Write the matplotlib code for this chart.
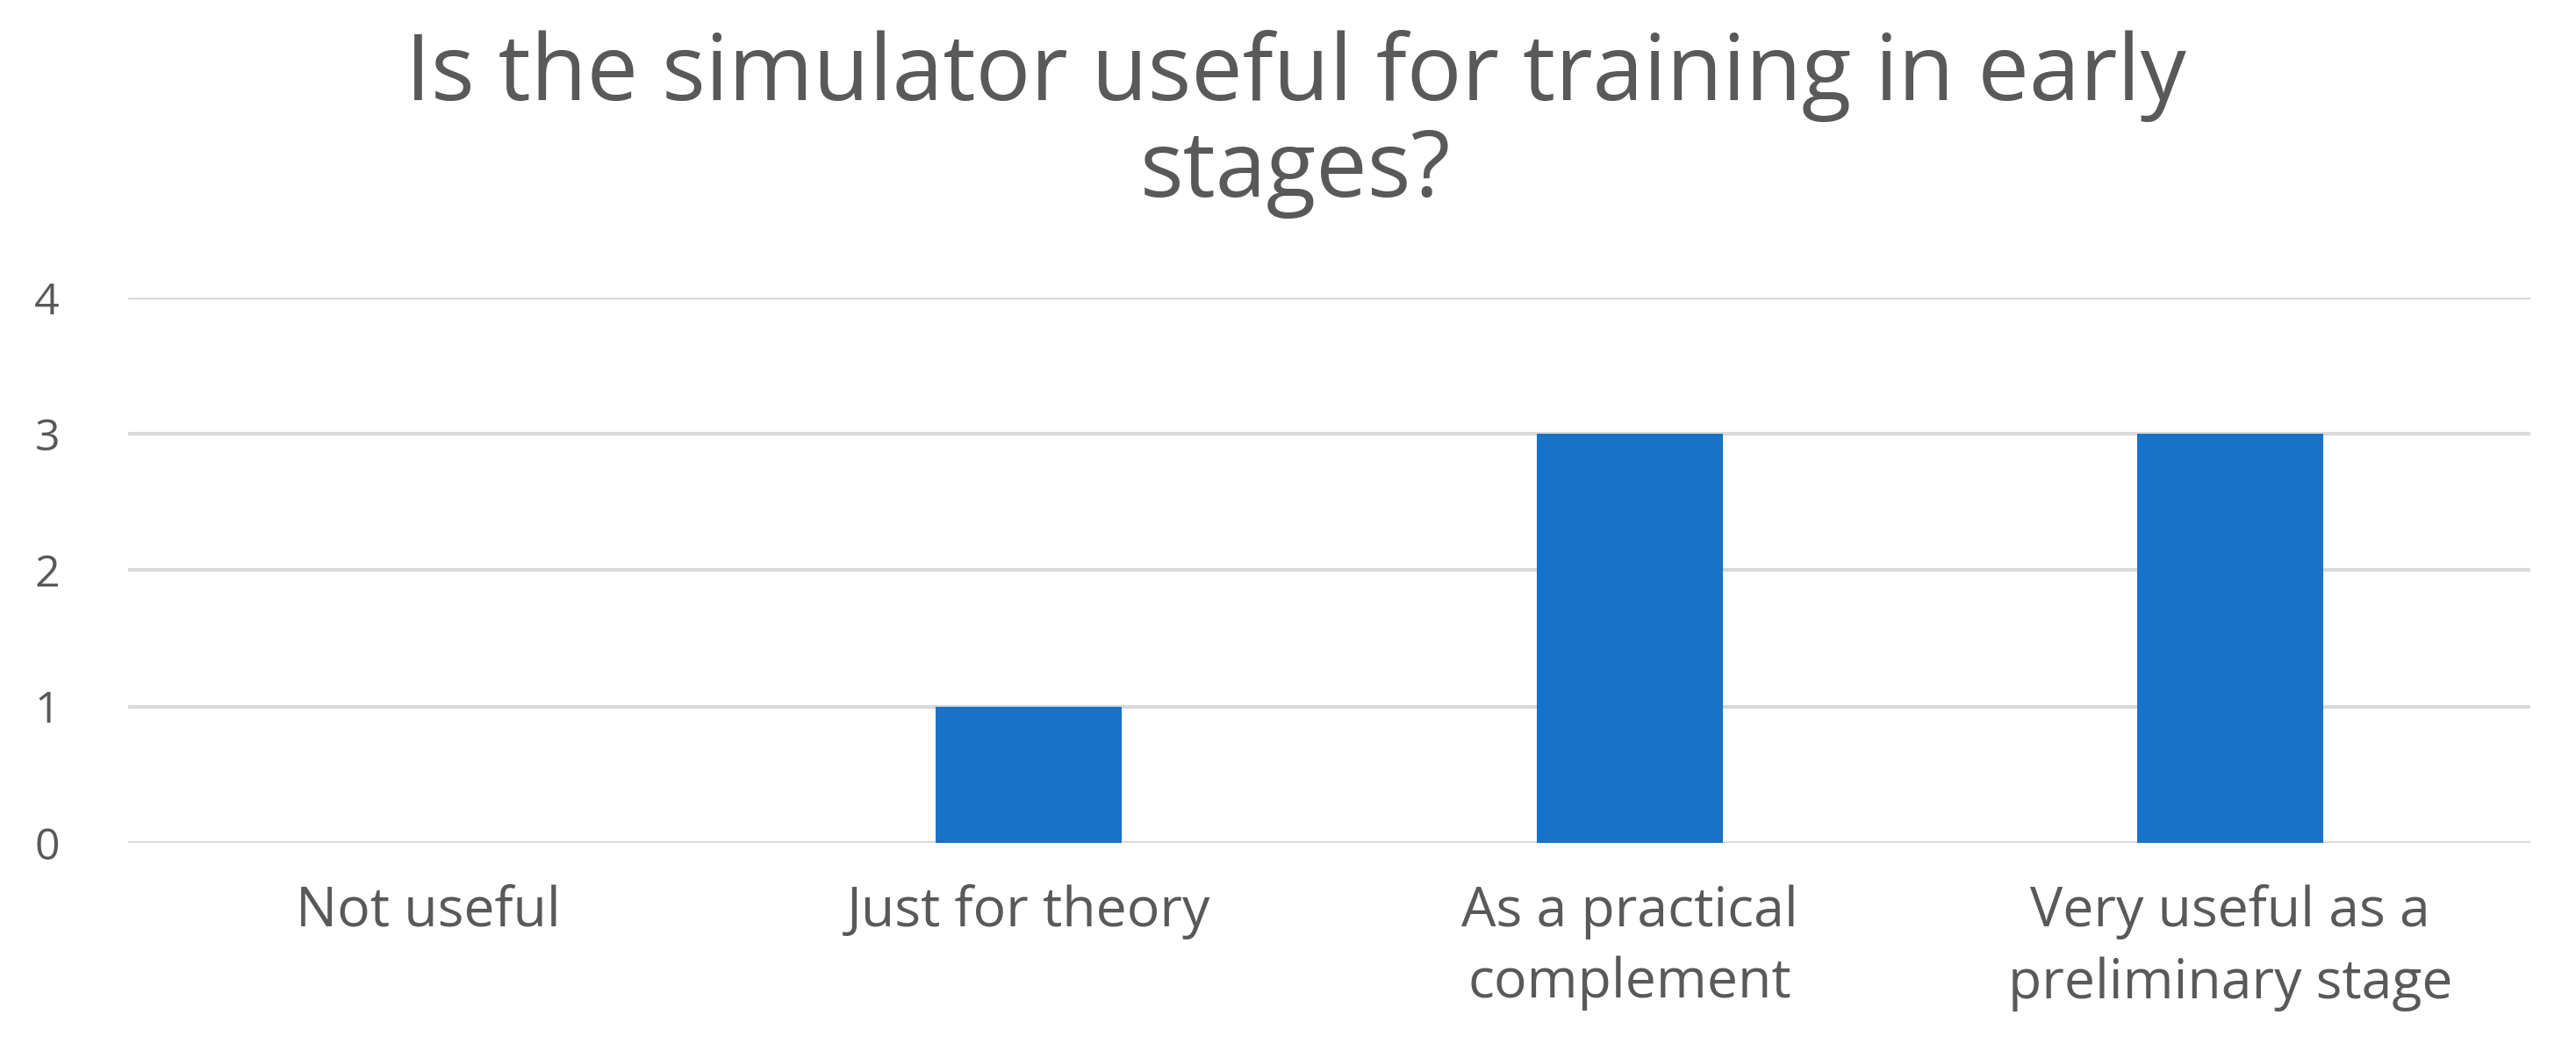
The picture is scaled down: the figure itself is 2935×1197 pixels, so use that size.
import matplotlib
matplotlib.use("Agg")
import matplotlib.pyplot as plt

# Data
categories = ["Not useful", "Just for theory", "As a practical\ncomplement",
              "Very useful as a\npreliminary stage"]
counts = [0, 1, 3, 3]
y_ticks = [0, 1, 2, 3, 4]
title = "Is the simulator useful for training in early\nstages?"

plt.rcParams['font.family'] = ['Open Sans', 'DejaVu Sans']
text_color = "#595959"

fig = plt.figure(figsize=(29.35, 11.97), dpi=100)
ax = fig.add_axes([0.0497, 0.198, 0.9326, 0.5188])

x = range(len(categories))
ax.bar(x, counts, width=0.31, color="#1872C8", zorder=3)

ax.set_xlim(-0.5, len(categories) - 0.5)
ax.set_ylim(0, 4)
ax.set_yticks(y_ticks)
ax.set_xticks(list(x))
ax.set_xticklabels(categories, fontsize=45, color=text_color, linespacing=1.4)
ax.tick_params(axis='y', labelsize=36, labelcolor=text_color, length=0, pad=56)
ax.tick_params(axis='x', length=0, pad=34)

ax.grid(axis='y', color="#d9d9d9", linewidth=3, zorder=0)
for s in ax.spines.values():
    s.set_visible(False)

fig.text(0.503, 0.972, title, ha='center', va='top', fontsize=75,
         color=text_color, linespacing=1.08)

fig.savefig("out.png", dpi=100, facecolor="white")
